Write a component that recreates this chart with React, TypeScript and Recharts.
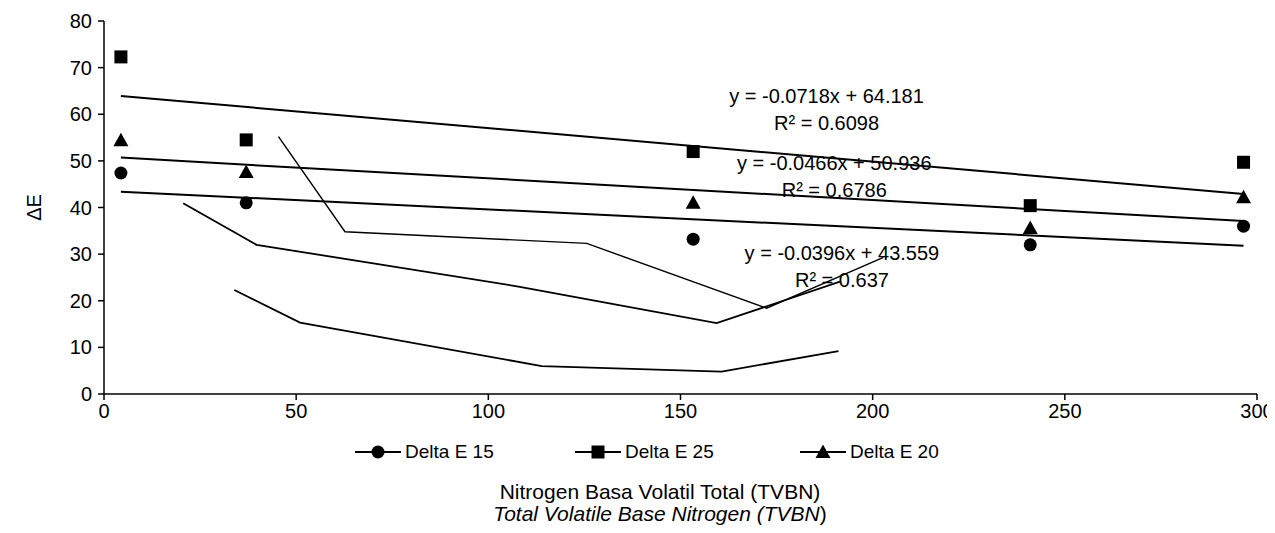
import React from "react";
import { ScatterChart, Scatter, XAxis, YAxis, ReferenceDot } from "recharts";

// Measured points (TVBN on x, ΔE on y)
const tvbn = [4.4, 37, 153.3, 241, 296.5];
const deltaE15 = [47.4, 41.0, 33.2, 32.0, 36.0];
const deltaE25 = [72.3, 54.5, 52.0, 40.4, 49.7];
const deltaE20 = [54.4, 47.6, 41.0, 35.6, 42.2];

// Linear trendline endpoints
const trend25 = [
  { x: 4.4, y: 63.9 },
  { x: 296.5, y: 42.9 },
];
const trend20 = [
  { x: 4.4, y: 50.7 },
  { x: 296.5, y: 37.1 },
];
const trend15 = [
  { x: 4.4, y: 43.4 },
  { x: 296.5, y: 31.8 },
];

// Stray polylines in the reference
const strayA = [
  { x: 45.4, y: 55.2 },
  { x: 62.7, y: 34.8 },
  { x: 125.6, y: 32.3 },
  { x: 172.4, y: 18.4 },
  { x: 202.8, y: 29.3 },
];
const strayB = [
  { x: 20.6, y: 40.9 },
  { x: 39.7, y: 32.0 },
  { x: 108.2, y: 23.0 },
  { x: 159.4, y: 15.2 },
  { x: 191.5, y: 24.1 },
];
const strayC = [
  { x: 33.9, y: 22.3 },
  { x: 51.0, y: 15.3 },
  { x: 113.9, y: 6.0 },
  { x: 160.7, y: 4.8 },
  { x: 191.1, y: 9.2 },
];

const xTicks = [0, 50, 100, 150, 200, 250, 300];
const yTicks = [0, 10, 20, 30, 40, 50, 60, 70, 80];
const seriesNames = ["Delta E 15", "Delta E 25", "Delta E 20"];
const equations = [
  { eq: "y = -0.0718x + 64.181", r2: "R² = 0.6098" },
  { eq: "y = -0.0466x + 50.936", r2: "R² = 0.6786" },
  { eq: "y = -0.0396x + 43.559", r2: "R² = 0.637" },
];

const toPts = (ys: number[]) => tvbn.map((x, i) => ({ x, y: ys[i] }));

const FONT = "'Liberation Sans', Arial, sans-serif";
const FS = 20;

const Circle = (p: any) => <circle cx={p.cx} cy={p.cy} r={6.5} fill="#000" />;
const Square = (p: any) => (
  <rect x={p.cx - 6.5} y={p.cy - 6.5} width={13} height={13} fill="#000" />
);
const Triangle = (p: any) => (
  <polygon
    points={`${p.cx},${p.cy - 7.5} ${p.cx + 7.5},${p.cy + 6} ${p.cx - 7.5},${p.cy + 6}`}
    fill="#000"
  />
);
const NoShape = () => <g />;

const eqPos = [
  { x: 188, y: 64.0 },
  { x: 190, y: 49.6 },
  { x: 192, y: 30.3 },
];

const LegendIcon = ({ kind }: { kind: number }) => (
  <svg width={46} height={16} style={{ display: "block" }}>
    <line x1={0} y1={8} x2={46} y2={8} stroke="#000" strokeWidth={2} />
    {kind === 0 && <circle cx={23} cy={8} r={6.5} fill="#000" />}
    {kind === 1 && <rect x={16.5} y={1.5} width={13} height={13} fill="#000" />}
    {kind === 2 && <polygon points="23,0.5 30.5,14 15.5,14" fill="#000" />}
  </svg>
);

export default function App() {
  const legendLefts = [347, 567, 792];
  return (
    <div style={{ position: "relative", width: 1267, height: 517, fontFamily: FONT }}>
      <ScatterChart
        width={1267}
        height={430}
        margin={{ top: 13, right: 18, left: 0, bottom: 14 }}
      >
        <XAxis
          type="number"
          dataKey="x"
          domain={[0, 300]}
          ticks={xTicks}
          interval={0}
          height={30}
          tickSize={6}
          tickMargin={4}
          axisLine={{ stroke: "#000", strokeWidth: 1.5 }}
          tickLine={{ stroke: "#000", strokeWidth: 1.5 }}
          tick={{ fill: "#000", fontSize: FS, fontFamily: FONT }}
          allowDataOverflow
        />
        <YAxis
          type="number"
          dataKey="y"
          domain={[0, 80]}
          ticks={yTicks}
          interval={0}
          width={96}
          tickSize={6}
          tickMargin={6}
          axisLine={{ stroke: "#000", strokeWidth: 1.5 }}
          tickLine={{ stroke: "#000", strokeWidth: 1.5 }}
          tick={{ fill: "#000", fontSize: FS, fontFamily: FONT }}
          label={(props: any) => {
            const vb = props.viewBox || { x: 0, y: 13, width: 96, height: 373 };
            const cx = 26;
            const cy = vb.y + vb.height / 2;
            return (
              <text
                x={cx}
                y={cy}
                transform={`rotate(-90, ${cx}, ${cy})`}
                textAnchor="middle"
                dominantBaseline="central"
                fontSize={FS}
                fontFamily={FONT}
                fill="#000"
              >
                ΔE
              </text>
            );
          }}
        />
        <Scatter data={strayA} line={{ stroke: "#000", strokeWidth: 1.4 }} lineType="joint" shape={NoShape} isAnimationActive={false} />
        <Scatter data={strayB} line={{ stroke: "#000", strokeWidth: 1.8 }} lineType="joint" shape={NoShape} isAnimationActive={false} />
        <Scatter data={strayC} line={{ stroke: "#000", strokeWidth: 1.8 }} lineType="joint" shape={NoShape} isAnimationActive={false} />
        <Scatter data={trend25} line={{ stroke: "#000", strokeWidth: 2 }} lineType="joint" shape={NoShape} isAnimationActive={false} />
        <Scatter data={trend20} line={{ stroke: "#000", strokeWidth: 2 }} lineType="joint" shape={NoShape} isAnimationActive={false} />
        <Scatter data={trend15} line={{ stroke: "#000", strokeWidth: 2 }} lineType="joint" shape={NoShape} isAnimationActive={false} />
        <Scatter name={seriesNames[0]} data={toPts(deltaE15)} shape={Circle} isAnimationActive={false} />
        <Scatter name={seriesNames[1]} data={toPts(deltaE25)} shape={Square} isAnimationActive={false} />
        <Scatter name={seriesNames[2]} data={toPts(deltaE20)} shape={Triangle} isAnimationActive={false} />
        {equations.map((e, i) => (
          <ReferenceDot
            key={i}
            x={eqPos[i].x}
            y={eqPos[i].y}
            r={1}
            shape={(p: any) => (
              <text
                x={p.cx}
                y={p.cy}
                textAnchor="middle"
                fontSize={FS}
                fontFamily={FONT}
                fill="#000"
              >
                <tspan x={p.cx} dy="0.35em">{e.eq}</tspan>
                <tspan x={p.cx} dy={27}>{e.r2}</tspan>
              </text>
            )}
          />
        ))}
      </ScatterChart>
      {seriesNames.map((n, i) => (
        <div
          key={n}
          style={{
            position: "absolute",
            top: 434,
            left: legendLefts[i],
            display: "flex",
            alignItems: "center",
            fontSize: 19,
            lineHeight: "20px",
          }}
        >
          <LegendIcon kind={i} />
          <span style={{ marginLeft: 4 }}>{n}</span>
        </div>
      ))}
      <div
        style={{
          position: "absolute",
          top: 473,
          left: 352,
          width: 600,
          textAlign: "center",
          fontSize: 21,
          lineHeight: "22px",
        }}
      >
        <div>Nitrogen Basa Volatil Total (TVBN)</div>
        <div>
          <i>Total Volatile Base Nitrogen (TVBN</i>)
        </div>
      </div>
    </div>
  );
}
